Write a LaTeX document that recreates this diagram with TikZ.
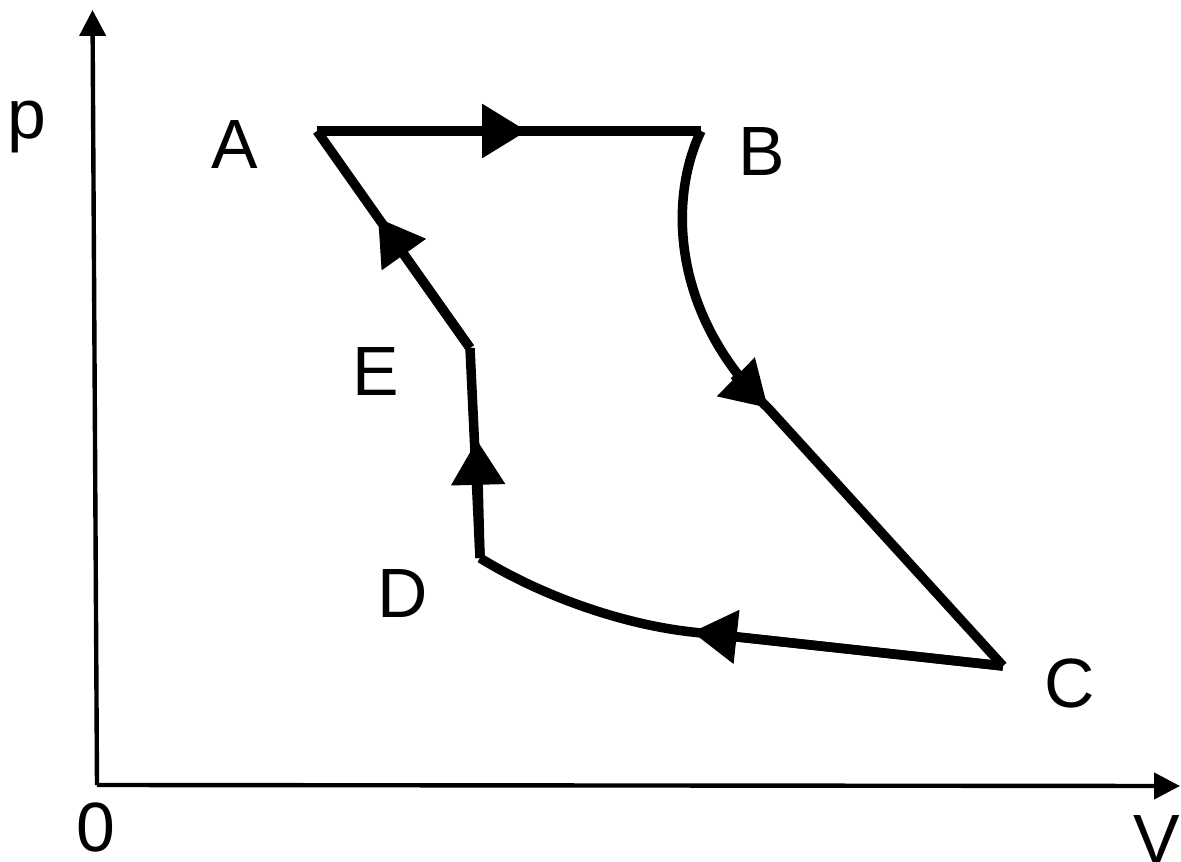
\documentclass[tikz,border=0pt]{standalone}
\usepackage{fontspec}
\setmainfont{Liberation Sans}
\usetikzlibrary{arrows.meta}
\begin{document}
\begin{tikzpicture}[x=0.02cm,y=-0.02cm,
  axis/.style={line width=2.5pt, -{Triangle[length=14.7pt,width=14.7pt]}},
  proc/.style={line width=5.4pt},
  procarrow/.style={proc, -{Triangle[length=25.5pt,width=29.5pt]}},
  lbl/.style={inner sep=0pt, anchor=base, font=\fontsize{39.7}{44}\selectfont}]
\useasboundingbox (0,0) rectangle (1181,862);
% axes
\coordinate (O) at (97,785);
\coordinate (Ytip) at (92.5,10);
\coordinate (Xtip) at (1180,786);
\draw[axis] (O) -- (Ytip);
\draw[axis] (O) -- (Xtip);
% cycle corners
\coordinate (A) at (317,131);
\coordinate (B) at (701,131);
\coordinate (C) at (1003,666);
\coordinate (D) at (480,558);
\coordinate (E) at (470,348);
% arrow positions
\coordinate (M0) at (527,131);
\coordinate (M1) at (768,408);
\coordinate (M1b) at (734,375);
\coordinate (M2) at (692,632);
\coordinate (M3) at (477,440);
\coordinate (M4) at (378,218);
% process paths (continuous lines)
\draw[proc] (A) -- (B);
\draw[proc] (B) .. controls (668,200) and (672,315) .. (M1) -- (C);
\draw[proc] (C) -- (M2) .. controls (620,624) and (540,595) .. (D);
\draw[proc] (D) -- (E);
\draw[proc] (E) -- (A);
% direction arrows
\draw[procarrow] (A) -- (M0);
\draw[procarrow] (M1b) -- (M1);
\draw[procarrow] (C) -- (M2);
\draw[procarrow] (D) -- (M3);
\draw[procarrow] (E) -- (M4);
% labels
\node[lbl] (lp) at (27,138) {p};
\node[lbl] (lA) at (234.5,168) {A};
\node[lbl] (lB) at (762,175) {B};
\node[lbl] (lE) at (375.5,395) {E};
\node[lbl] (lD) at (402.5,617) {D};
\node[lbl] (lC) at (1070,707) {C};
\node[lbl] (l0) at (95.5,851) {0};
\node[lbl] (lV) at (1157,863) {V};
\end{tikzpicture}
\end{document}
